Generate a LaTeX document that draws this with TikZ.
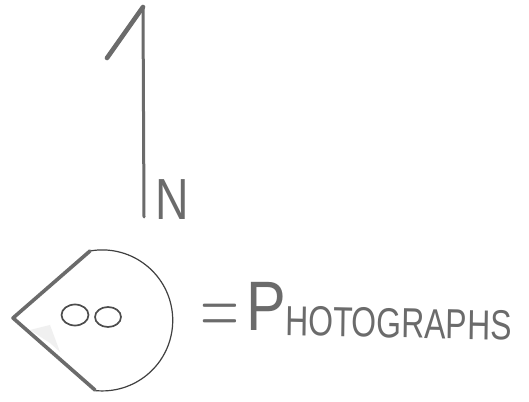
\documentclass[tikz,border=0pt]{standalone}
\usepackage{fontspec}
\setmainfont{Liberation Sans}
\usetikzlibrary{calc,shapes.geometric}
\definecolor{pencil}{gray}{0.42}
\tikzset{
  heavy/.style={draw=pencil,line width=3.6pt,line cap=round,line join=round},
  thin pencil/.style={draw=black!75,line width=1.2pt},
  lens/.style={draw=black!70,line width=1.7pt,ellipse,inner sep=0pt},
  written/.style={text=pencil,inner sep=0pt,anchor=base west}
}
\begin{document}
\begin{tikzpicture}[x=1pt,y=1pt]
  \useasboundingbox (0,0) rectangle (529,401);
  \fill[white] (0,0) rectangle (529,401);
  % north arrow
  \coordinate (top) at (143,394);
  \coordinate (foot) at (144,184);
  \coordinate (barb) at (107,343);
  \draw[heavy,line width=3pt] (foot)--(top);
  \draw[heavy,line width=4.6pt] (top)--(barb);
  \node[written,font=\fontsize{58}{58}\selectfont,xscale=.8] (north) at (155,181) {N};
  % photograph symbol
  \coordinate (tip) at (13,83);
  \coordinate (upper) at (90,150);
  \coordinate (lower) at (95,11);
  \fill[gray!12] (30,71)--(50,76)--(60,49)--(50,58)--cycle;
  \draw[thin pencil] (upper) arc[start angle=100,end angle=-96,radius=70.5pt];
  \draw[heavy] (upper)--(tip)--(lower);
  \node[lens,minimum width=27pt,minimum height=21pt] (lens a) at (75,86) {};
  \node[lens,minimum width=26pt,minimum height=20pt] (lens b) at (108,84) {};
  % legend
  \node[written,xscale=5,yscale=8] (equals) at (199,67.5) {$=$};
  \node[written,font=\fontsize{70}{70}\selectfont,xscale=.85] (legend p) at (246,70) {P};
  \node[written,font=\fontsize{42}{42}\selectfont,xscale=.76,rotate=-1] (legend) at (285,66) {HOTOGRAPHS};
\end{tikzpicture}
\end{document}
